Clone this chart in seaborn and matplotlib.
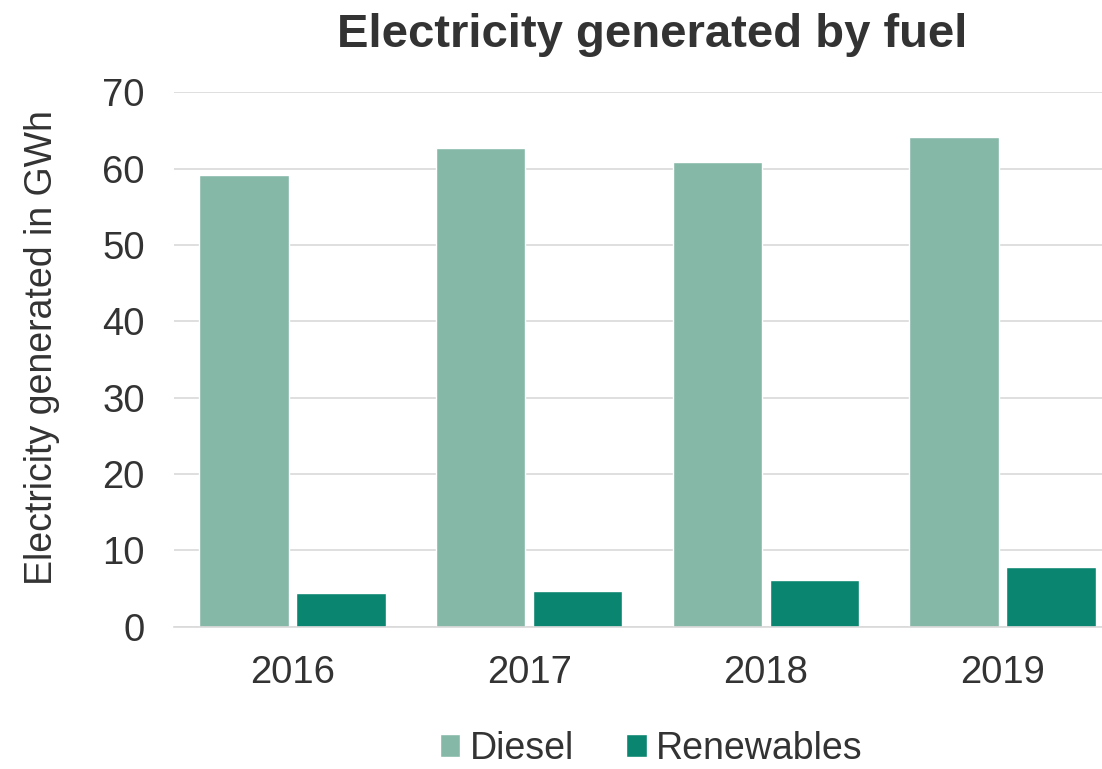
import matplotlib
matplotlib.use("Agg")
import matplotlib.pyplot as plt
import seaborn as sns
import pandas as pd

years = ["2016", "2017", "2018", "2019"]
diesel = [59.2, 62.7, 60.9, 64.1]
renewables = [4.45, 4.65, 6.1, 7.8]
fuels = ["Diesel", "Renewables"]
colors = ["#86B8A8", "#0A8670"]

df = pd.DataFrame({
    "Year": years * 2,
    "Fuel": ["Diesel"] * 4 + ["Renewables"] * 4,
    "GWh": diesel + renewables,
})

sns.set_theme(style="white")
plt.rcParams["font.family"] = ["Liberation Sans", "DejaVu Sans"]
text_color = "#333333"

fig = plt.figure(figsize=(11.02, 7.69), dpi=100)
ax = fig.add_axes([0.158, 0.185, 0.842, 0.695])
sns.barplot(data=df, x="Year", y="GWh", hue="Fuel", palette=colors,
            saturation=1, width=0.82, gap=0.08, ax=ax, legend=True)

ax.set_ylim(0, 70)
ax.set_xlim(-0.5, 3.42)
ax.set_yticks(range(0, 71, 10))
ax.grid(axis="y", color="#d9d9d9", linewidth=1.2)
ax.set_axisbelow(True)
for s in ["top", "right", "left"]:
    ax.spines[s].set_visible(False)
ax.spines["bottom"].set_color("#d9d9d9")
ax.spines["bottom"].set_linewidth(1.2)
ax.tick_params(axis="both", length=0, labelsize=27.5, colors=text_color)
ax.tick_params(axis="y", pad=21)
ax.tick_params(axis="x", pad=20)
ax.set_xlabel("")
ax.set_ylabel("Electricity generated in GWh", fontsize=27, color=text_color)
ax.yaxis.set_label_coords(-0.123, 0.523)

fig.text(0.592, 0.954, "Electricity generated by fuel", ha="center", va="center",
         fontsize=34, fontweight="bold", color=text_color)

handles, labels = ax.get_legend_handles_labels()
ax.legend_.remove()
fig.legend(handles, labels, loc="center", bbox_to_anchor=(0.591, 0.026), ncol=2,
           frameon=False, fontsize=27, handlelength=0.55, handleheight=0.55,
           handletextpad=0.25, columnspacing=1.4, labelcolor=text_color,
           borderpad=0.1)

fig.savefig("out.png", dpi=100)
